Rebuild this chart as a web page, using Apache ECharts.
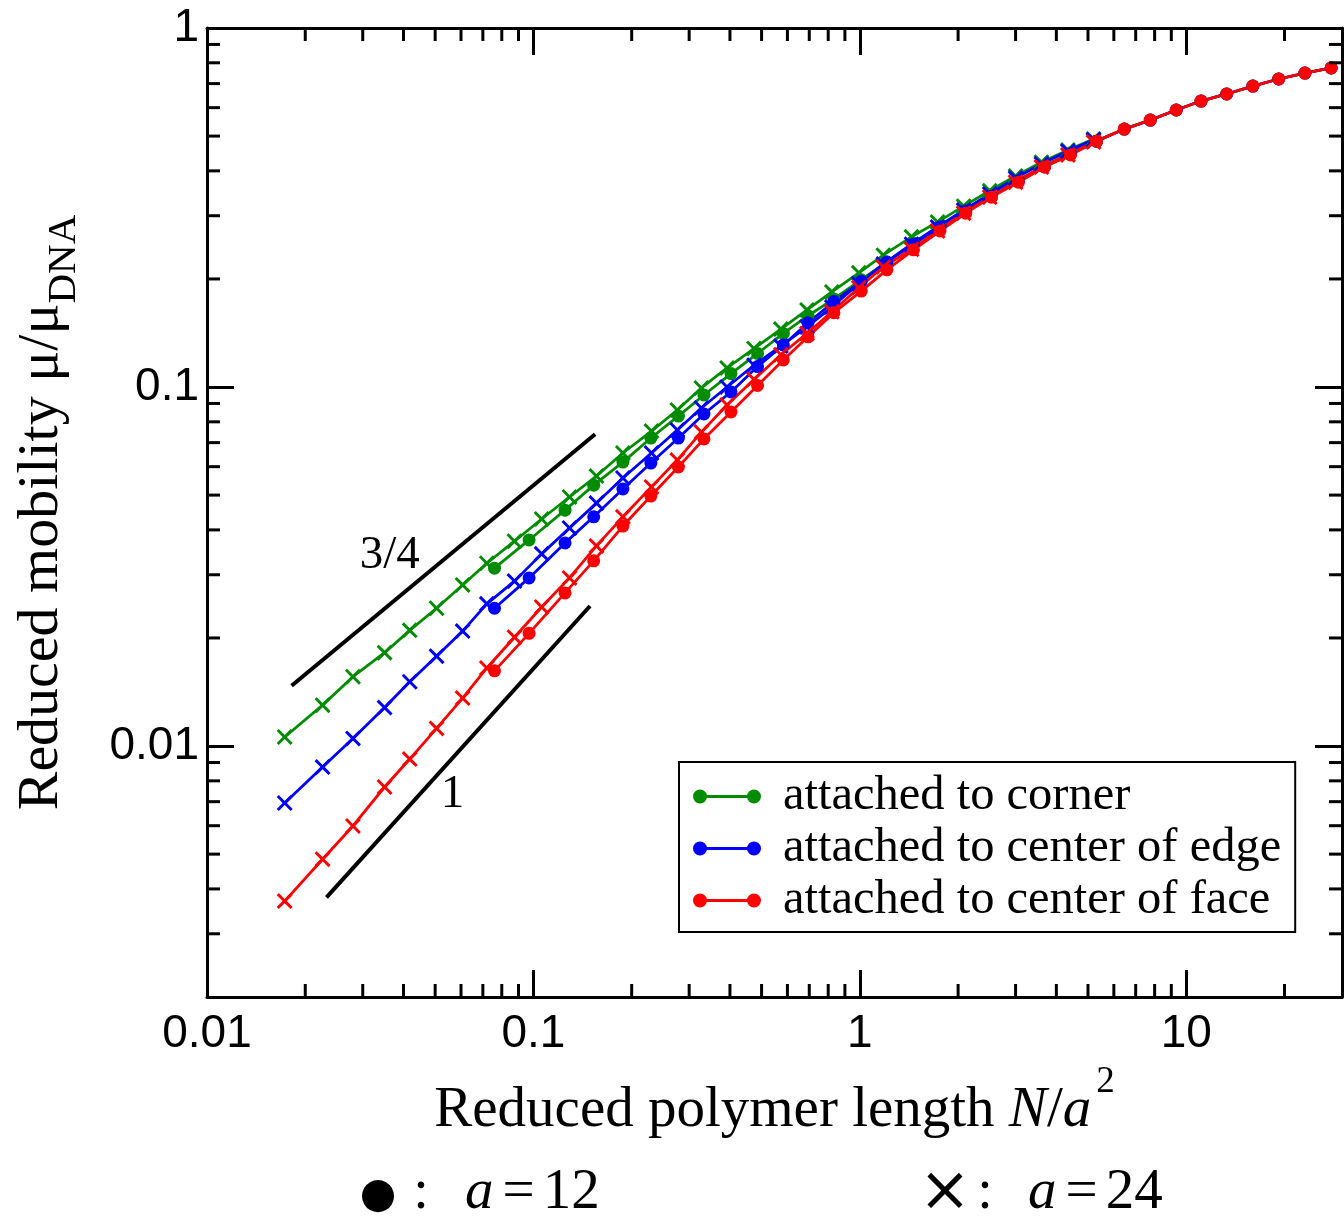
<!DOCTYPE html>
<html><head><meta charset="utf-8">
<script src="https://cdn.jsdelivr.net/npm/echarts@6/dist/echarts.min.js"></script>
<style>html,body{margin:0;padding:0;background:#fff;}#c{width:1344px;height:1217px;}</style>
</head><body><div id="c"></div>
<script>
// ---- data ----
const xA12 = [0.076, 0.097, 0.125, 0.153, 0.188, 0.229, 0.278, 0.333, 0.403, 0.486, 0.583, 0.694, 0.833, 1.01, 1.21, 1.46, 1.76, 2.11, 2.53, 3.06, 3.68, 4.42, 5.31, 6.46, 7.76, 9.32, 11.1, 13.3, 16.0, 19.2, 23.1, 27.8];
const xA24 = [0.0173, 0.0226, 0.0280, 0.0350, 0.0418, 0.0505, 0.0607, 0.0720, 0.0875, 0.106, 0.129, 0.156, 0.188, 0.230, 0.276, 0.327, 0.392, 0.474, 0.573, 0.689, 0.821, 0.993, 1.18, 1.44, 1.73, 2.08, 2.50, 3.00, 3.60, 4.34, 5.20];

const cornerA12 = [0.0313, 0.0375, 0.0454, 0.0533, 0.0618, 0.0721, 0.0830, 0.0950, 0.109, 0.124, 0.141, 0.158, 0.176, 0.199, 0.223, 0.252, 0.281, 0.311, 0.343, 0.377, 0.413, 0.449, 0.484, 0.523, 0.554, 0.591, 0.626, 0.655, 0.689, 0.721, 0.749, 0.774];
const cornerA24 = [0.0106, 0.0130, 0.0156, 0.0182, 0.0210, 0.0242, 0.0281, 0.0323, 0.0372, 0.0429, 0.0494, 0.0565, 0.0655, 0.0754, 0.0863, 0.0994, 0.113, 0.128, 0.145, 0.164, 0.184, 0.208, 0.233, 0.262, 0.288, 0.319, 0.352, 0.387, 0.423, 0.457, 0.491];
const edgeA12 = [0.0242, 0.0294, 0.0368, 0.0435, 0.0520, 0.0614, 0.0721, 0.0841, 0.0969, 0.114, 0.131, 0.151, 0.173, 0.197, 0.223, 0.250, 0.279, 0.309, 0.340, 0.375, 0.410, 0.446, 0.484, 0.523, 0.554, 0.591, 0.626, 0.655, 0.689, 0.721, 0.749, 0.774];
const edgeA24 = [0.00694, 0.00874, 0.0105, 0.0128, 0.0151, 0.0178, 0.0209, 0.0249, 0.0288, 0.0343, 0.0405, 0.0475, 0.0558, 0.0655, 0.0759, 0.0874, 0.100, 0.115, 0.130, 0.147, 0.167, 0.194, 0.220, 0.250, 0.279, 0.311, 0.345, 0.382, 0.418, 0.454, 0.488];
const faceA12 = [0.0162, 0.0206, 0.0267, 0.0328, 0.0410, 0.0497, 0.0599, 0.0717, 0.0852, 0.101, 0.119, 0.138, 0.161, 0.185, 0.212, 0.241, 0.272, 0.305, 0.338, 0.372, 0.410, 0.443, 0.484, 0.523, 0.554, 0.591, 0.626, 0.655, 0.689, 0.721, 0.749, 0.774];
const faceA24 = [0.00370, 0.00484, 0.00599, 0.00769, 0.00920, 0.0112, 0.0136, 0.0165, 0.0201, 0.0244, 0.0294, 0.0361, 0.0435, 0.0527, 0.0626, 0.0749, 0.0891, 0.105, 0.123, 0.141, 0.162, 0.189, 0.216, 0.242, 0.272, 0.305, 0.338, 0.372, 0.410, 0.443, 0.481];

const seriesNames = ['attached to corner', 'attached to center of edge', 'attached to center of face'];
const seriesColors = ['#008c00', '#0000ff', '#ff0000'];

const slope34 = [[0.01816, 0.01472], [0.1545, 0.07384]];
const slope1 = [[0.02323, 0.00379], [0.1491, 0.02455]];
const slopeLabelPos = [[0.0363, 0.0340], [0.0565, 0.00730]];
const slopeLabelText = ['3/4', '1'];

const xMinorTicks = [0.02,0.03,0.04,0.05,0.06,0.07,0.08,0.09,0.2,0.3,0.4,0.5,0.6,0.7,0.8,0.9,2,3,4,5,6,7,8,9,20];
const yMinorTicks = [0.003,0.004,0.005,0.006,0.007,0.008,0.009,0.02,0.03,0.04,0.05,0.06,0.07,0.08,0.09,0.2,0.3,0.4,0.5,0.6,0.7,0.8,0.9];

// ---- chart ----
const zip = (xs, ys) => xs.map((x, i) => [x, ys[i]]);
const crossPath = 'path://M0,13L13,0L50,37L87,0L100,13L63,50L100,87L87,100L50,63L13,100L0,87L37,50Z';
const legendIcon = 'path://M0,7a7,7 0 1,1 14,0a7,7 0 1,1 -14,0zM13,5.6h42v2.8h-42zM54,7a7,7 0 1,1 14,0a7,7 0 1,1 -14,0z';

function dataSeries(name, color, xs, ys, isCross) {
  return {
    type: 'line', name: name, data: zip(xs, ys),
    symbol: isCross ? crossPath : 'circle',
    symbolSize: isCross ? 16 : 13,
    showSymbol: true, showAllSymbol: true,
    lineStyle: { color: color, width: 2.8 },
    itemStyle: { color: color },
    silent: true, emphasis: { disabled: true }, z: 3
  };
}

const fmt = v => String(parseFloat(Number(v).toPrecision(4)));
const axisBase = {
  type: 'log', logBase: 10,
  axisLine: { show: true, onZero: false, lineStyle: { color: '#000', width: 3 } },
  axisTick: { show: true, inside: true, length: 27, lineStyle: { color: '#000', width: 3 } },
  splitLine: { show: false }, minorTick: { show: false }, minorSplitLine: { show: false },
  nameMoveOverlap: false
};
const labelStyle = { fontFamily: 'Liberation Sans', fontSize: 46, color: '#000' };
const eqRich = {
  i: { fontFamily: 'Liberation Serif', fontSize: 57, fontStyle: 'italic', fill: '#000' },
  e: { fontFamily: 'Liberation Serif', fontSize: 57, fill: '#000', padding: [0, 8, 0, 9] },
  n: { fontFamily: 'Liberation Serif', fontSize: 57, fill: '#000' }
};

const option = {
  animation: false,
  backgroundColor: '#fff',
  grid: { left: 207, top: 28, right: 2, bottom: 220, containLabel: false, outerBoundsMode: 'none' },
  xAxis: [
    Object.assign({}, axisBase, {
      min: 0.01, max: 30, position: 'bottom',
      axisLabel: Object.assign({ show: true, margin: 14, showMaxLabel: false, formatter: fmt }, labelStyle),
      name: '{t|Reduced polymer length }{i|N}{t|/}{i|a}{s|2}',
      nameLocation: 'middle', nameGap: 67,
      nameTextStyle: {
        color: '#000', fontFamily: 'Liberation Serif', fontSize: 57,
        rich: {
          t: { fontFamily: 'Liberation Serif', fontSize: 57, color: '#000' },
          i: { fontFamily: 'Liberation Serif', fontSize: 57, fontStyle: 'italic', color: '#000' },
          s: { fontFamily: 'Liberation Serif', fontSize: 37, color: '#000', padding: [0, 0, 58, 5] }
        }
      }
    }),
    Object.assign({}, axisBase, { min: 0.01, max: 30, position: 'top', axisLabel: { show: false } })
  ],
  yAxis: [
    Object.assign({}, axisBase, {
      min: 0.002, max: 1, position: 'left',
      axisLabel: Object.assign({ show: true, margin: 8, showMinLabel: false, formatter: fmt }, labelStyle),
      name: '{t|Reduced mobility μ/μ}{s|DNA}',
      nameLocation: 'middle', nameGap: 122,
      nameTextStyle: {
        color: '#000', fontFamily: 'Liberation Serif', fontSize: 58,
        rich: {
          t: { fontFamily: 'Liberation Serif', fontSize: 58, color: '#000' },
          s: { fontFamily: 'Liberation Serif', fontSize: 41, color: '#000', padding: [46, 0, 0, 0] }
        }
      }
    }),
    Object.assign({}, axisBase, { min: 0.002, max: 1, position: 'right', axisLabel: { show: false } })
  ],
  legend: {
    data: seriesNames, left: 679, top: 762, orient: 'vertical',
    icon: legendIcon, itemWidth: 68, itemHeight: 14, itemGap: 3,
    selectedMode: false,
    backgroundColor: '#fff', borderColor: '#000', borderWidth: 2, borderRadius: 0,
    padding: [10, 14, 7, 14],
    textStyle: { fontFamily: 'Liberation Serif', fontSize: 48.5, color: '#000', lineHeight: 48, padding: [0, 0, 0, 17] }
  },
  series: [
    dataSeries(seriesNames[0], seriesColors[0], xA12, cornerA12, false),
    dataSeries(seriesNames[0], seriesColors[0], xA24, cornerA24, true),
    dataSeries(seriesNames[1], seriesColors[1], xA12, edgeA12, false),
    dataSeries(seriesNames[1], seriesColors[1], xA24, edgeA24, true),
    dataSeries(seriesNames[2], seriesColors[2], xA12, faceA12, false),
    dataSeries(seriesNames[2], seriesColors[2], xA24, faceA24, true),
    { type: 'line', name: 'slope 3/4', data: slope34, showSymbol: false, silent: true,
      lineStyle: { color: '#000', width: 4 }, z: 2 },
    { type: 'line', name: 'slope 1', data: slope1, showSymbol: false, silent: true,
      lineStyle: { color: '#000', width: 4 }, z: 2 },
    { type: 'custom', name: 'slope labels', data: slopeLabelPos, silent: true, z: 4,
      renderItem: (params, api) => {
        const p = api.coord([api.value(0), api.value(1)]);
        return { type: 'text', x: p[0], y: p[1],
          style: { text: slopeLabelText[params.dataIndex], fontFamily: 'Liberation Serif', fontSize: 47,
                   fill: '#000', align: 'center', verticalAlign: 'middle' } };
      } },
    { type: 'custom', name: 'x minor ticks', data: xMinorTicks.map(v => [v, 0.1]), silent: true, z: 5,
      renderItem: (params, api) => {
        const x = api.coord([api.value(0), 0.1])[0];
        const cs = params.coordSys;
        const st = { stroke: '#000', lineWidth: 3 };
        return { type: 'group', children: [
          { type: 'line', shape: { x1: x, y1: cs.y + cs.height, x2: x, y2: cs.y + cs.height - 13 }, style: st },
          { type: 'line', shape: { x1: x, y1: cs.y, x2: x, y2: cs.y + 13 }, style: st }
        ] };
      } },
    { type: 'custom', name: 'y minor ticks', data: yMinorTicks.map(v => [1, v]), silent: true, z: 5,
      renderItem: (params, api) => {
        const y = api.coord([1, api.value(1)])[1];
        const cs = params.coordSys;
        const st = { stroke: '#000', lineWidth: 3 };
        return { type: 'group', children: [
          { type: 'line', shape: { x1: cs.x, y1: y, x2: cs.x + 13, y2: y }, style: st },
          { type: 'line', shape: { x1: cs.x + cs.width, y1: y, x2: cs.x + cs.width - 13, y2: y }, style: st }
        ] };
      } }
  ],
  graphic: [
    { type: 'text', x: 378, y: 1196, style: { text: '●', fontFamily: 'DejaVu Sans', fontSize: 42, fill: '#000', align: 'center', verticalAlign: 'middle' } },
    { type: 'text', x: 421, y: 1193, style: { text: ':', fontFamily: 'Liberation Serif', fontSize: 56, fill: '#000', align: 'center', verticalAlign: 'middle' } },
    { type: 'text', x: 465, y: 1193, style: { text: '{i|a}{e|=}{n|12}', fill: '#000', align: 'left', verticalAlign: 'middle', rich: eqRich } },
    { type: 'text', x: 945, y: 1194, style: { text: '×', fontFamily: 'DejaVu Sans', fontSize: 62, fill: '#000', align: 'center', verticalAlign: 'middle' } },
    { type: 'text', x: 985, y: 1193, style: { text: ':', fontFamily: 'Liberation Serif', fontSize: 56, fill: '#000', align: 'center', verticalAlign: 'middle' } },
    { type: 'text', x: 1028, y: 1193, style: { text: '{i|a}{e|=}{n|24}', fill: '#000', align: 'left', verticalAlign: 'middle', rich: eqRich } }
  ]
};

const chart = echarts.init(document.getElementById('c'), null, { renderer: 'canvas' });
chart.setOption(option);
</script>
</body></html>
